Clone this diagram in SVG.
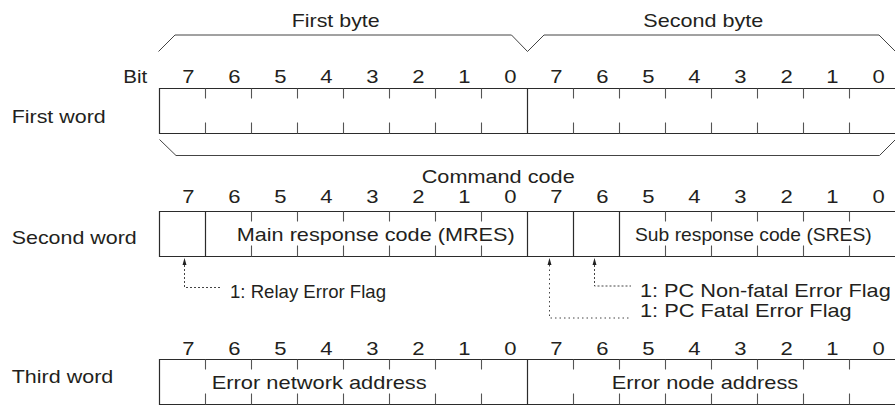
<svg xmlns="http://www.w3.org/2000/svg" width="895" height="405" viewBox="0 0 895 405">
<style>
text{font-family:"Liberation Sans",Arial,Helvetica,sans-serif;font-size:19px;fill:#231f20}
.d{text-anchor:middle}
.box{fill:none;stroke:#2b2b2b;stroke-width:1.2}
.tk{stroke:#555;stroke-width:1.1}
.br{fill:none;stroke:#444;stroke-width:1}
.ds{fill:none;stroke:#444;stroke-width:1;stroke-dasharray:2 2}
.dt{fill:none;stroke:#444;stroke-width:1;stroke-dasharray:1.5 3}
.ah{fill:#222}
</style>
<defs>
<g id="digits">
<text class="d" x="162.5">7</text><text class="d" x="202.16">6</text><text class="d" x="241.81">5</text><text class="d" x="281.47">4</text><text class="d" x="321.12">3</text><text class="d" x="360.78">2</text><text class="d" x="400.43">1</text><text class="d" x="440.09">0</text><text class="d" x="479.74">7</text><text class="d" x="519.4">6</text><text class="d" x="559.05">5</text><text class="d" x="598.71">4</text><text class="d" x="638.36">3</text><text class="d" x="678.02">2</text><text class="d" x="717.67">1</text><text class="d" x="757.33">0</text>
</g>
</defs>

<g id="byte-braces">
<polyline class="br" points="158.5,51.5 175,35 511.5,35 527.5,51.5 544,35 879,35 895.5,51.5"/>
<text x="291.7" y="26.7" textLength="88" lengthAdjust="spacingAndGlyphs">First byte</text>
<text x="643.3" y="26.7" textLength="120" lengthAdjust="spacingAndGlyphs">Second byte</text>
</g>

<g id="first-word">
<text x="123.3" y="83.3" textLength="24" lengthAdjust="spacingAndGlyphs">Bit</text>
<use href="#digits" transform="translate(0,83.3) scale(1.16,1)"/>
<text x="11.7" y="123" textLength="94" lengthAdjust="spacingAndGlyphs">First word</text>
<path class="box" d="M896,88.5 H159.5 V133.5 H896 M527.5,88.5 V133.5"/>
<path class="tk" d="M205.5,88.5v10M251.5,88.5v10M297.5,88.5v10M343.5,88.5v10M389.5,88.5v10M435.5,88.5v10M481.5,88.5v10M573.5,88.5v10M619.5,88.5v10M665.5,88.5v10M711.5,88.5v10M757.5,88.5v10M803.5,88.5v10M849.5,88.5v10M205.5,133.5v-11M251.5,133.5v-11M297.5,133.5v-11M343.5,133.5v-11M389.5,133.5v-11M435.5,133.5v-11M481.5,133.5v-11M573.5,133.5v-11M619.5,133.5v-11M665.5,133.5v-11M711.5,133.5v-11M757.5,133.5v-11M803.5,133.5v-11M849.5,133.5v-11"/>
</g>

<g id="command-brace">
<polyline class="br" points="159.5,139.5 176,155.5 879.5,155.5 895.5,139.5"/>
<text x="421.7" y="183.3" textLength="153" lengthAdjust="spacingAndGlyphs">Command code</text>
</g>

<g id="second-word">
<use href="#digits" transform="translate(0,203) scale(1.16,1)"/>
<text x="11.7" y="244.3" textLength="125" lengthAdjust="spacingAndGlyphs">Second word</text>
<path class="box" d="M896,211.5 H159.5 V256.5 H896 M205.5,211.5 V256.5 M527.5,211.5 V256.5 M573.5,211.5 V256.5 M619.5,211.5 V256.5"/>
<path class="tk" d="M251.5,211.5v10M297.5,211.5v10M343.5,211.5v10M389.5,211.5v10M435.5,211.5v10M481.5,211.5v10M665.5,211.5v10M711.5,211.5v10M757.5,211.5v10M803.5,211.5v10M849.5,211.5v10M251.5,256.5v-11M297.5,256.5v-11M343.5,256.5v-11M389.5,256.5v-11M435.5,256.5v-11M481.5,256.5v-11M665.5,256.5v-11M711.5,256.5v-11M757.5,256.5v-11M803.5,256.5v-11M849.5,256.5v-11"/>
<text x="236.7" y="241" textLength="278" lengthAdjust="spacingAndGlyphs">Main response code (MRES)</text>
<text x="635" y="241" textLength="236.7" lengthAdjust="spacingAndGlyphs">Sub response code (SRES)</text>
</g>

<g id="flag-labels">
<text x="230" y="298" textLength="156" lengthAdjust="spacingAndGlyphs">1: Relay Error Flag</text>
<text x="640" y="297" textLength="250.7" lengthAdjust="spacingAndGlyphs">1: PC Non-fatal Error Flag</text>
<text x="640" y="317" textLength="211.7" lengthAdjust="spacingAndGlyphs">1: PC Fatal Error Flag</text>
</g>

<g id="connectors">
<polygon class="ah" points="184.5,258 182.5,265 186.5,265"/>
<polyline class="ds" points="184.5,265 184.5,287.5 220,287.5"/>
<polygon class="ah" points="594.5,258 592.5,265 596.5,265"/>
<polyline class="ds" points="594.5,265 594.5,286 631,286"/>
<polygon class="ah" points="549.5,258 547.5,265 551.5,265"/>
<polyline class="dt" points="549.5,265 549.5,318 631,318"/>
</g>

<g id="third-word">
<use href="#digits" transform="translate(0,355) scale(1.16,1)"/>
<text x="11.7" y="383" textLength="101.6" lengthAdjust="spacingAndGlyphs">Third word</text>
<path class="box" d="M896,359.5 H159.5 V404.5 H896 M527.5,359.5 V404.5"/>
<path class="tk" d="M205.5,359.5v10M251.5,359.5v10M297.5,359.5v10M343.5,359.5v10M389.5,359.5v10M435.5,359.5v10M481.5,359.5v10M573.5,359.5v10M619.5,359.5v10M665.5,359.5v10M711.5,359.5v10M757.5,359.5v10M803.5,359.5v10M849.5,359.5v10M205.5,404.5v-11M251.5,404.5v-11M297.5,404.5v-11M343.5,404.5v-11M389.5,404.5v-11M435.5,404.5v-11M481.5,404.5v-11M573.5,404.5v-11M619.5,404.5v-11M665.5,404.5v-11M711.5,404.5v-11M757.5,404.5v-11M803.5,404.5v-11M849.5,404.5v-11"/>
<text x="211.7" y="389" textLength="215" lengthAdjust="spacingAndGlyphs">Error network address</text>
<text x="611.7" y="388.5" textLength="186.6" lengthAdjust="spacingAndGlyphs">Error node address</text>
</g>
</svg>
